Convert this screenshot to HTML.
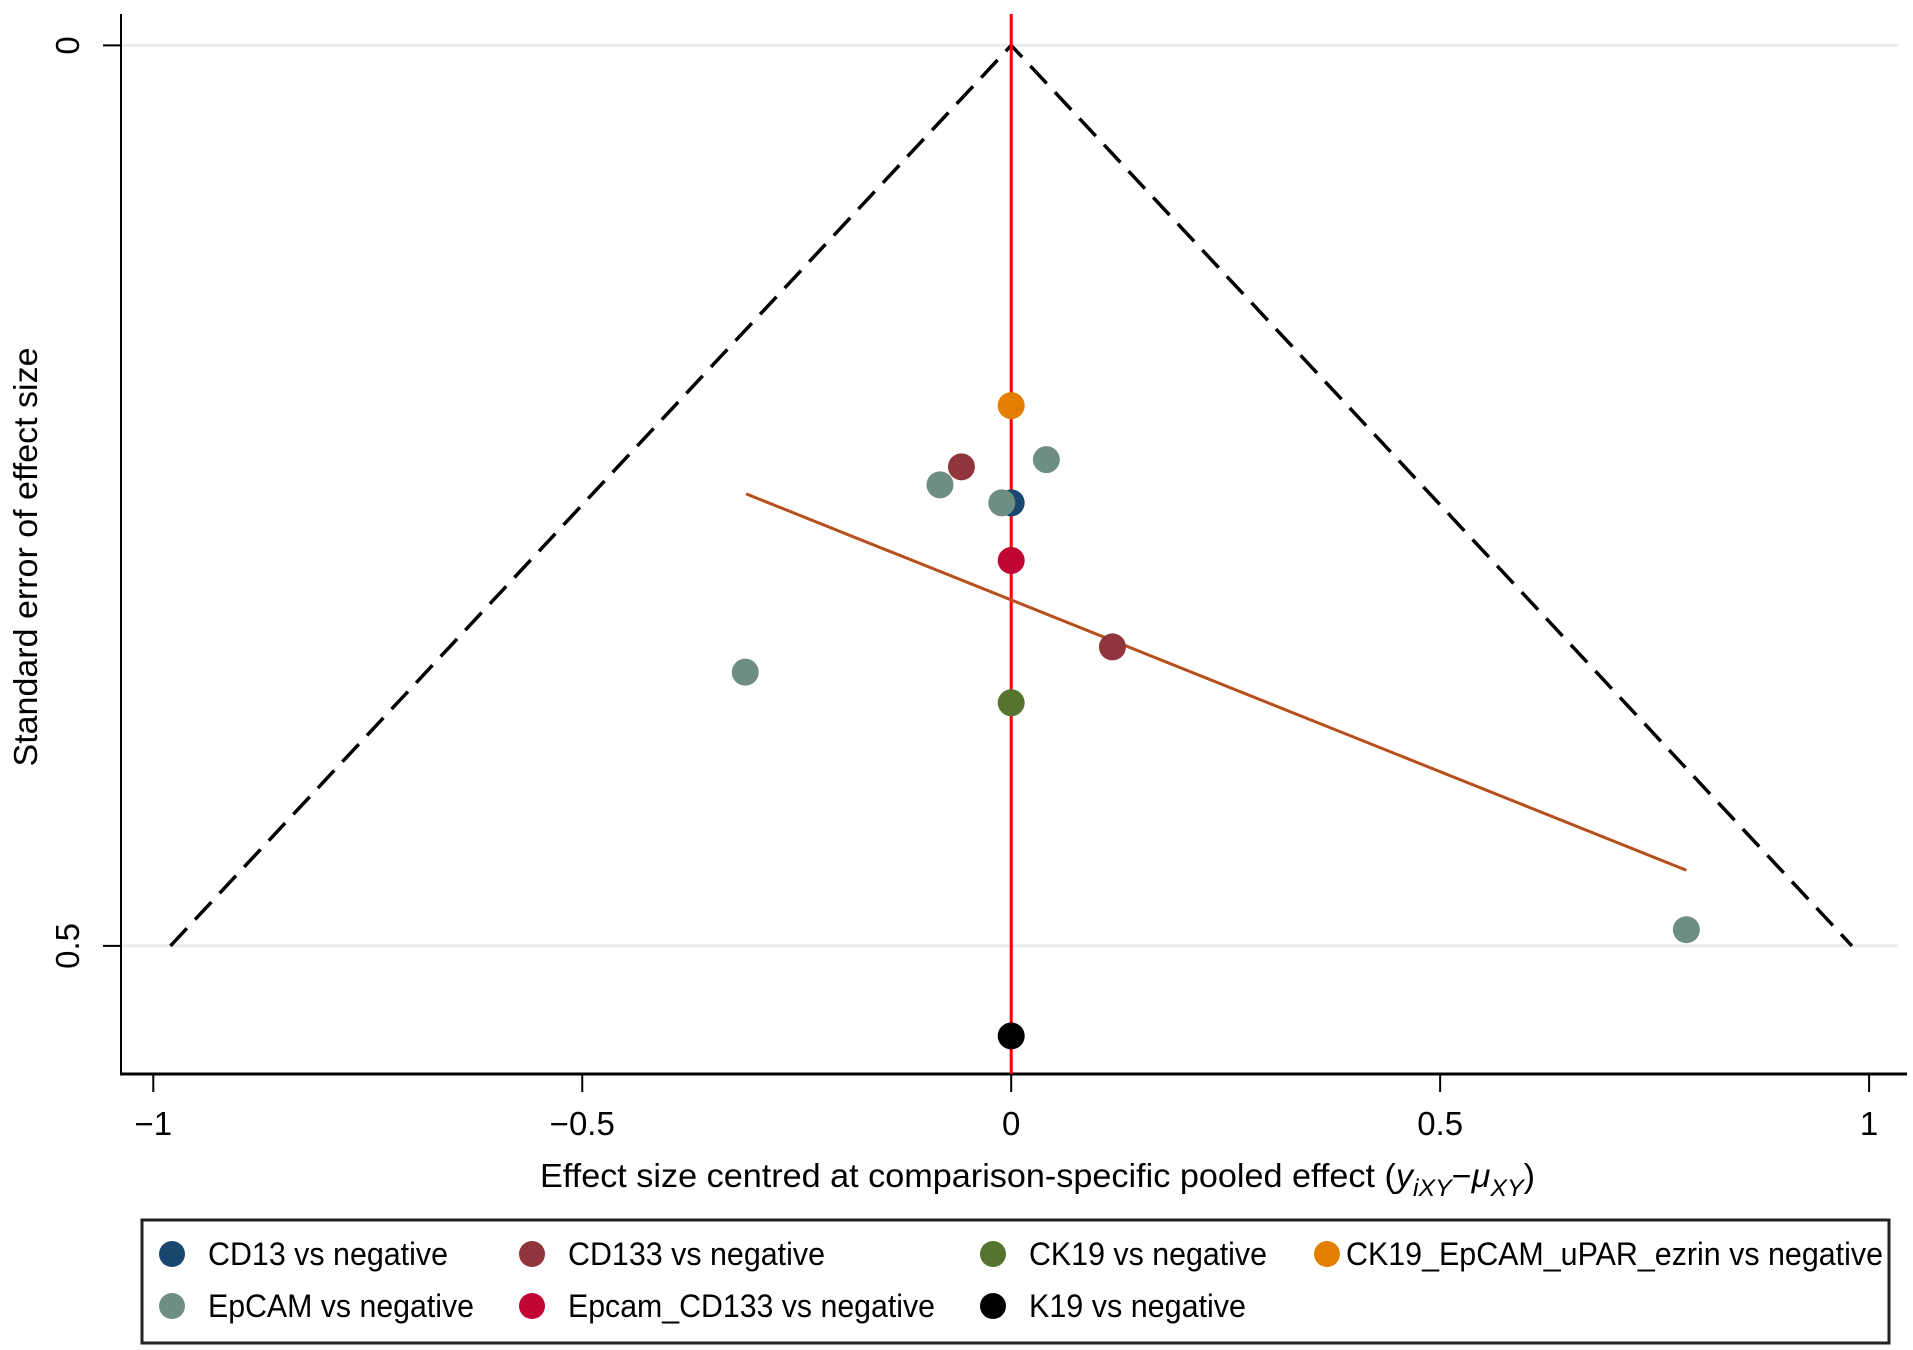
<!DOCTYPE html>
<html><head><meta charset="utf-8"><style>
html,body{margin:0;padding:0;background:#fff;}
svg{display:block;font-family:"Liberation Sans",Arial,sans-serif;}
</style></head><body>
<svg id="chart" width="1913" height="1350" viewBox="0 0 1913 1350" xmlns="http://www.w3.org/2000/svg">
<rect x="0" y="0" width="1913" height="1350" fill="#fff"/>
<g id="grid"></g><g id="axes"></g><g id="marks"></g><g id="legend"></g>
</svg>
<script>
const xTicks = [-1, -0.5, 0, 0.5, 1];
const xTickLabels = ["\u22121", "\u22120.5", "0", "0.5", "1"];
const yTicks = [0, 0.5];
const yTickLabels = ["0", "0.5"];
const seriesNames = ["CD13 vs negative","CD133 vs negative","CK19 vs negative","CK19_EpCAM_uPAR_ezrin vs negative","EpCAM vs negative","Epcam_CD133 vs negative","K19 vs negative"];
const seriesColors = ["#1a476f","#90353b","#55752f","#e37e00","#6e8e84","#c10534","#000000"];
const pointSeries = [3, 1, 4, 4, 0, 4, 5, 1, 4, 2, 4, 6];
const pointEffect = [0, -0.058, 0.041, -0.083, 0, -0.011, 0, 0.118, -0.310, 0, 0.787, 0];
const pointSE = [0.200, 0.234, 0.230, 0.244, 0.254, 0.254, 0.286, 0.334, 0.348, 0.365, 0.491, 0.550];
const fitX = [-0.309, 0.787];
const fitSE = [0.249, 0.458];
const funnelZ = 1.96;
const funnelMaxSE = 0.5;

const NS = "http://www.w3.org/2000/svg";
const X0 = 1011.2, XU = 857.9, Y0 = 45.4, YU = 1801;
function xs(v){ return X0 + v*XU; }
function ys(v){ return Y0 + v*YU; }
function mk(parent, tag, attrs){ const e=document.createElementNS(NS,tag); for(const k in attrs) e.setAttribute(k,attrs[k]); document.getElementById(parent).appendChild(e); return e; }

yTicks.forEach((t,i)=>{
  const g = mk("grid","line",{x1:122,x2:1898,y1:ys(t),y2:ys(t),stroke:"#ebebeb","stroke-width":3});
  
  
});
let ax = mk("axes","line",{x1:121,x2:121,y1:14,y2:1075,stroke:"#000","stroke-width":2});


ax = mk("axes","line",{x1:120,x2:1907,y1:1074,y2:1074,stroke:"#000","stroke-width":3});


xTicks.forEach((t,i)=>{
  const tk = mk("axes","line",{x1:xs(t),x2:xs(t),y1:1074,y2:1092,stroke:"#000","stroke-width":2});
  
  
  const lb = mk("axes","text",{x:xs(t),y:1135,"font-size":33,"text-anchor":"middle",fill:"#000"});
  lb.textContent = xTickLabels[i];
  
  
});
yTicks.forEach((t,i)=>{
  const tk = mk("axes","line",{x1:103,x2:121,y1:ys(t),y2:ys(t),stroke:"#000","stroke-width":2});
  
  
  const lb = mk("axes","text",{x:0,y:0,"font-size":33,"text-anchor":"middle",fill:"#000",transform:`translate(79,${ys(t)}) rotate(-90)`});
  lb.textContent = yTickLabels[i];
  
  
});
let yt = mk("axes","text",{x:0,y:0,"font-size":33,"text-anchor":"middle",fill:"#000",transform:"translate(37,557) rotate(-90)",textLength:419,lengthAdjust:"spacingAndGlyphs"});
yt.textContent = "Standard error of effect size";


let xt = mk("axes","text",{x:540,y:1187,"font-size":33,fill:"#000",textLength:995,lengthAdjust:"spacingAndGlyphs"});
xt.innerHTML = 'Effect size centred at comparison-specific pooled effect (<tspan font-style="italic">y</tspan><tspan font-style="italic" font-size="24" dy="9">iXY</tspan><tspan dy="-9">\u2212</tspan><tspan font-style="italic">\u03bc</tspan><tspan font-style="italic" font-size="24" dy="9">XY</tspan><tspan dy="-9">)</tspan>';



const fpts = [[-funnelZ*funnelMaxSE,funnelMaxSE],[0,0],[funnelZ*funnelMaxSE,funnelMaxSE]].map(p=>xs(p[0])+","+ys(p[1])).join(" ");
const fn = mk("marks","polyline",{points:fpts,fill:"none",stroke:"#000","stroke-width":3.5,"stroke-dasharray":"24,12"});


const rl = mk("marks","line",{x1:xs(0),x2:xs(0),y1:14,y2:1074,stroke:"#ff0000","stroke-width":3});


const fl = mk("marks","line",{x1:xs(fitX[0]),y1:ys(fitSE[0]),x2:xs(fitX[1]),y2:ys(fitSE[1]),stroke:"#b5501c","stroke-width":3});


pointSeries.forEach((s,i)=>{
  const c = mk("marks","circle",{cx:xs(pointEffect[i]),cy:ys(pointSE[i]),r:13.5,fill:seriesColors[s]});
  
  
});

const lb = mk("legend","rect",{x:142,y:1220,width:1747,height:123,fill:"#fff",stroke:"#222","stroke-width":3});


const legMX = [172, 532, 993, 1327];
const legRowY = [1254, 1306];
const legTW = [240, 257, 238, 537, 266, 367, 217];
seriesNames.forEach((n,i)=>{
  const col = i<4 ? i : i-4, row = i<4 ? 0 : 1;
  const m = mk("legend","circle",{cx:legMX[col],cy:legRowY[row],r:13,fill:seriesColors[i]});
  
  
  const t = mk("legend","text",{x:legMX[col]+(col===3?19:36),y:legRowY[row]+11,"font-size":32,fill:"#000",textLength:legTW[i],lengthAdjust:"spacingAndGlyphs"});
  t.textContent = n;
  
  
});
</script>
</body></html>
